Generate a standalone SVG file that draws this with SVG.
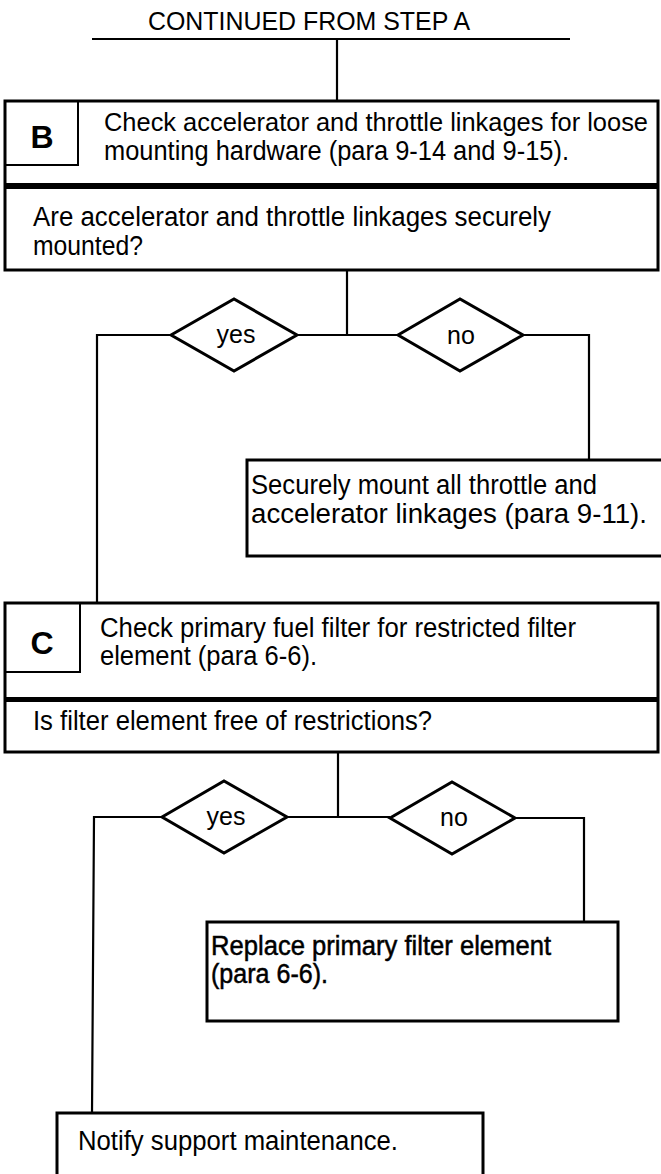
<svg xmlns="http://www.w3.org/2000/svg" width="661" height="1174" viewBox="0 0 661 1174">
<style>
text{font-family:"Liberation Sans",Arial,sans-serif;fill:#000}
.t{font-size:27px}
.lbl{font-size:32px;font-weight:bold}
.box{fill:none;stroke:#000;stroke-width:3}
.thin{fill:none;stroke:#000;stroke-width:2}
.div{fill:#000}
.dia{fill:#fff;stroke:#000;stroke-width:3;stroke-linejoin:miter}
.con{fill:none;stroke:#000;stroke-width:2.2}
.yn{font-size:25px;text-anchor:middle}
.med{stroke:#000;stroke-width:0.5}
</style>
<g id="connectors">
<line class="con" x1="92" y1="39" x2="570" y2="39"/>
<line class="con" x1="337" y1="39" x2="337" y2="101"/>
<line class="con" x1="347" y1="270" x2="347" y2="335"/>
<polyline class="con" points="171,335 97,335 97,603"/>
<line class="con" x1="297" y1="335" x2="398" y2="335"/>
<polyline class="con" points="523,335 589,335 589,460"/>
<line class="con" x1="338" y1="752" x2="338" y2="817"/>
<polyline class="con" points="162,817 94,817 92,1113"/>
<line class="con" x1="287" y1="817" x2="390" y2="817"/>
<polyline class="con" points="515,818 584,818 584,922"/>
</g>
<g id="title"><text x="148" y="30" font-size="25" textLength="322" lengthAdjust="spacingAndGlyphs">CONTINUED FROM STEP A</text></g>
<g id="stepB">
<rect class="box" x="5" y="101" width="653" height="169"/>
<path class="thin" d="M5,101 V165 H78 V101"/>
<rect class="div" x="5" y="183" width="653" height="6"/>
<text class="lbl" x="42" y="148" text-anchor="middle">B</text>
<text class="t" x="104" y="131" font-size="25.5" style="font-size:25.5px" textLength="544" lengthAdjust="spacingAndGlyphs">Check accelerator and throttle linkages for loose</text>
<text class="t" x="104" y="160" textLength="465" lengthAdjust="spacingAndGlyphs">mounting hardware (para 9-14 and 9-15).</text>
<text class="t" x="33" y="226" textLength="518" lengthAdjust="spacingAndGlyphs">Are accelerator and throttle linkages securely</text>
<text class="t" x="33" y="255" textLength="110" lengthAdjust="spacingAndGlyphs">mounted?</text>
</g>
<g id="yesB"><polygon class="dia" points="171,335 234,299 297,335 234,371"/><text class="yn" x="236" y="343">yes</text></g>
<g id="noB"><polygon class="dia" points="398,335 460,299 523,335 460,371"/><text class="yn" x="461" y="344">no</text></g>
<g id="mount">
<path class="box" d="M670,460 H247 V556 H670"/>
<text class="t" x="251" y="494" textLength="346" lengthAdjust="spacingAndGlyphs">Securely mount all throttle and</text>
<text class="t" x="251" y="523" textLength="396" lengthAdjust="spacingAndGlyphs">accelerator linkages (para 9-11).</text>
</g>
<g id="stepC">
<rect class="box" x="5" y="603" width="653" height="149"/>
<path class="thin" d="M5,603 V672 H80 V603"/>
<rect class="div" x="5" y="697" width="653" height="5"/>
<text class="lbl" x="42" y="654" text-anchor="middle">C</text>
<text class="t" x="100" y="637" textLength="476" lengthAdjust="spacingAndGlyphs">Check primary fuel filter for restricted filter</text>
<text class="t" x="100" y="665" textLength="217" lengthAdjust="spacingAndGlyphs">element (para 6-6).</text>
<text class="t" x="33" y="730" textLength="399" lengthAdjust="spacingAndGlyphs">Is filter element free of restrictions?</text>
</g>
<g id="yesC"><polygon class="dia" points="162,817 224,781 287,817 224,853"/><text class="yn" x="226" y="825">yes</text></g>
<g id="noC"><polygon class="dia" points="390,818 452,782 515,818 452,854"/><text class="yn" x="454" y="826">no</text></g>
<g id="replace">
<rect class="box" x="207" y="922" width="411" height="99"/>
<text class="t med" x="211" y="955" textLength="340" lengthAdjust="spacingAndGlyphs">Replace primary filter element</text>
<text class="t med" x="211" y="983" textLength="117" lengthAdjust="spacingAndGlyphs">(para 6-6).</text>
</g>
<g id="notify">
<path class="box" d="M57,1180 V1113 H483 V1180"/>
<text class="t" x="78" y="1150" textLength="320" lengthAdjust="spacingAndGlyphs">Notify support maintenance.</text>
</g>
</svg>
